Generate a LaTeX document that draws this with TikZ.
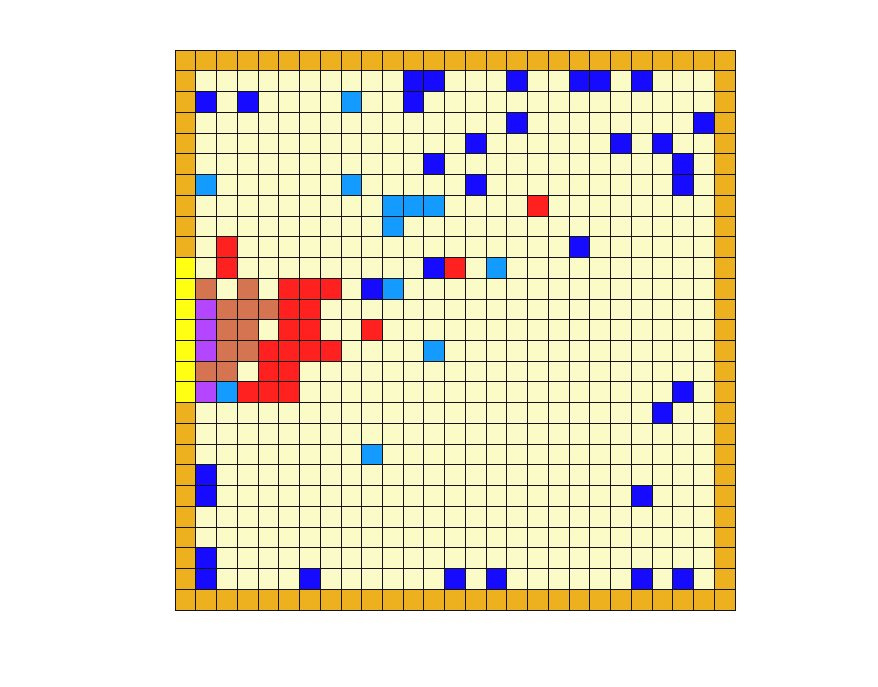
\documentclass[tikz,border=0pt]{standalone}
\usepackage{tikz}
\definecolor{wallcolor}{RGB}{237, 177, 32}
\definecolor{floorcolor}{RGB}{251, 251, 200}
\definecolor{blockcolor}{RGB}{22, 10, 255}
\definecolor{watercolor}{RGB}{20, 155, 255}
\definecolor{firecolor}{RGB}{255, 32, 32}
\definecolor{ashcolor}{RGB}{212, 116, 80}
\definecolor{agentcolor}{RGB}{180, 70, 255}
\definecolor{exitcolor}{RGB}{255, 255, 20}
\definecolor{gridcolor}{RGB}{20, 20, 20}
\tikzset{
cell/.style={
  draw=gridcolor,
  line width=0.55pt
}
}

\begin{document}
\begin{tikzpicture}[x=5mm, y=-5mm]
  % Page margins (reference proportions)
  \useasboundingbox (-8.437,-2.411) rectangle (33.895,30.664);

  % Floor and walls
  \foreach \c in {0,...,26} {
    \foreach \r in {0,...,26} {
      \filldraw[cell, fill=floorcolor] (\c,\r) rectangle ++(1,1);
    }
  }
  \foreach \k in {0,...,26} {
    \filldraw[cell, fill=wallcolor] (\k,0) rectangle ++(1,1);
    \filldraw[cell, fill=wallcolor] (\k,26) rectangle ++(1,1);
    \filldraw[cell, fill=wallcolor] (0,\k) rectangle ++(1,1);
    \filldraw[cell, fill=wallcolor] (26,\k) rectangle ++(1,1);
  }

  % Exit on the left wall
  \foreach \r in {10,...,16} {
    \filldraw[cell, fill=exitcolor] (0,\r) rectangle ++(1,1);
  }

  % Obstacles
  \foreach \c/\r in {11/1,12/1,16/1,19/1,20/1,22/1,1/2,3/2,11/2,16/3,25/3,
                     14/4,21/4,23/4,12/5,24/5,14/6,24/6,19/9,12/10,9/11,
                     24/16,23/17,1/20,1/21,22/21,1/24,1/25,6/25,13/25,
                     15/25,22/25,24/25} {
    \filldraw[cell, fill=blockcolor] (\c,\r) rectangle ++(1,1);
  }

  % Water
  \foreach \c/\r in {8/2,1/6,8/6,10/7,11/7,12/7,10/8,15/10,10/11,12/14,2/16,9/19} {
    \filldraw[cell, fill=watercolor] (\c,\r) rectangle ++(1,1);
  }

  % Fire
  \foreach \c/\r in {17/7,2/9,2/10,13/10,5/11,6/11,7/11,5/12,6/12,5/13,6/13,9/13,
                     4/14,5/14,6/14,7/14,4/15,5/15,3/16,4/16,5/16} {
    \filldraw[cell, fill=firecolor] (\c,\r) rectangle ++(1,1);
  }

  % Burnt cells
  \foreach \c/\r in {1/11,3/11,2/12,3/12,4/12,2/13,3/13,2/14,3/14,1/15,2/15} {
    \filldraw[cell, fill=ashcolor] (\c,\r) rectangle ++(1,1);
  }

  % Agents
  \foreach \c/\r in {1/12,1/13,1/14,1/16} {
    \filldraw[cell, fill=agentcolor] (\c,\r) rectangle ++(1,1);
  }
\end{tikzpicture}
\end{document}
